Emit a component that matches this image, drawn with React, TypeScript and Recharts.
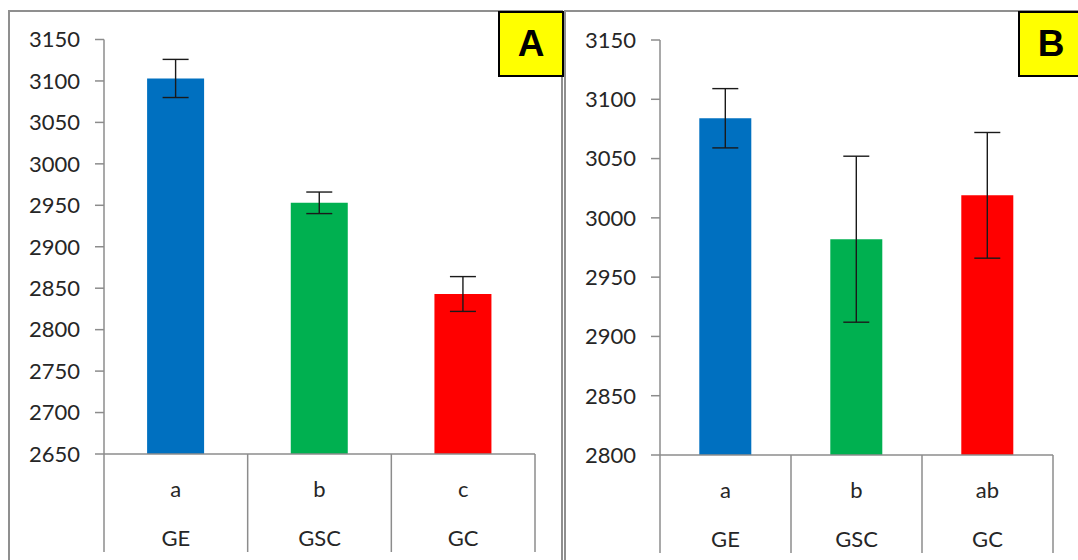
import { BarChart, Bar, Cell, ErrorBar, XAxis, YAxis } from "recharts"

// treatment groups, shared by both panels
const groups = ["GE", "GSC", "GC"]
const barColors = ["#0070C0", "#00B050", "#FF0000"]

// panel A
const lettersA = ["a", "b", "c"]
const meansA = [3103, 2953, 2843]
const errorsA = [23, 13, 21]
const ticksA = [2650, 2700, 2750, 2800, 2850, 2900, 2950, 3000, 3050, 3100, 3150]

// panel B
const lettersB = ["a", "b", "ab"]
const meansB = [3084, 2982, 3019]
const errorsB = [25, 70, 53]
const ticksB = [2800, 2850, 2900, 2950, 3000, 3050, 3100, 3150]

const FONT = "Lato, 'Open Sans', sans-serif"
const AXIS_GRAY = "#8c8c8c"
const TEXT = "#262626"

type PanelProps = {
  left: number
  width: number
  yAxisWidth: number
  top: number
  right: number
  xAxisHeight: number
  ticks: number[]
  letters: string[]
  means: number[]
  errors: number[]
}

const GroupTick = (props: any) => {
  const { x, y, index, payload, letters, band, count } = props
  const half = band / 2
  return (
    <g>
      <line x1={x - half} y1={y} x2={x - half} y2={y + 98} stroke={AXIS_GRAY} strokeWidth={1.5} />
      {index === count - 1 && (
        <line x1={x + half} y1={y} x2={x + half} y2={y + 98} stroke={AXIS_GRAY} strokeWidth={1.5} />
      )}
      <text x={x} y={y + 34} textAnchor="middle" dominantBaseline="central" fontSize={22} fontFamily={FONT} fill={TEXT}>
        {letters[index]}
      </text>
      <text x={x} y={y + 83} textAnchor="middle" dominantBaseline="central" fontSize={22} fontFamily={FONT} fill={TEXT}>
        {payload.value}
      </text>
    </g>
  )
}

const Panel = ({ left, width, yAxisWidth, top, right, xAxisHeight, ticks, letters, means, errors }: PanelProps) => {
  const data = groups.map((name, i) => ({ name, mean: means[i], err: errors[i] }))
  const band = (width - yAxisWidth - right) / groups.length
  return (
    <div style={{ position: "absolute", left, top: 0 }}>
      <BarChart width={width} height={560} data={data} barCategoryGap="30%"
        margin={{ top, right, bottom: 0, left: 0 }}>
        <XAxis
          dataKey="name"
          height={xAxisHeight}
          interval={0}
          tickLine={false}
          tickSize={0}
          tickMargin={0}
          axisLine={{ stroke: AXIS_GRAY, strokeWidth: 1.5 }}
          tick={(p: any) => <GroupTick {...p} letters={letters} band={band} count={groups.length} />}
        />
        <YAxis
          width={yAxisWidth}
          domain={[ticks[0], ticks[ticks.length - 1]]}
          ticks={ticks}
          interval={0}
          tickSize={9}
          tickMargin={15}
          axisLine={{ stroke: AXIS_GRAY, strokeWidth: 1.5 }}
          tickLine={{ stroke: AXIS_GRAY, strokeWidth: 1.5 }}
          tick={{ fill: TEXT, fontSize: 22, fontFamily: FONT }}
        />
        <Bar dataKey="mean" isAnimationActive={false}>
          {data.map((d, i) => (
            <Cell key={d.name} fill={barColors[i]} />
          ))}
          <ErrorBar dataKey="err" width={13} stroke="#1a1a1a" strokeWidth={1.4} direction="y" />
        </Bar>
      </BarChart>
    </div>
  )
}

const PanelTag = ({ left, text }: { left: number; text: string }) => (
  <div style={{
    position: "absolute", left, top: 11, width: 62, height: 62,
    background: "#FFFF00", border: "2px solid #000",
    display: "flex", alignItems: "center", justifyContent: "center",
    fontFamily: "'Liberation Sans', Arial, sans-serif", fontWeight: "bold", fontSize: 37, color: "#000",
  }}>
    {text}
  </div>
)

export default function App() {
  return (
    <div style={{ position: "absolute", left: 0, top: 0, width: 1078, height: 560, overflow: "hidden", background: "#fff" }}>
      {/* frames of the two panels */}
      <div style={{ position: "absolute", left: 8, top: 10, width: 551, height: 560, borderTop: "2px solid #8f8f8f", borderLeft: "2.5px solid #8f8f8f", borderRight: "2.5px solid #8f8f8f" }} />
      <div style={{ position: "absolute", left: 564, top: 10, width: 520, height: 560, borderTop: "2px solid #8f8f8f", borderLeft: "2.5px solid #8f8f8f" }} />

      <Panel left={0} width={563} yAxisWidth={104} top={39.5} right={28} xAxisHeight={106}
        ticks={ticksA} letters={lettersA} means={meansA} errors={errorsA} />
      <Panel left={563} width={515} yAxisWidth={97} top={40} right={25} xAxisHeight={105}
        ticks={ticksB} letters={lettersB} means={meansB} errors={errorsB} />

      <PanelTag left={498} text="A" />
      <PanelTag left={1018} text="B" />
    </div>
  )
}
